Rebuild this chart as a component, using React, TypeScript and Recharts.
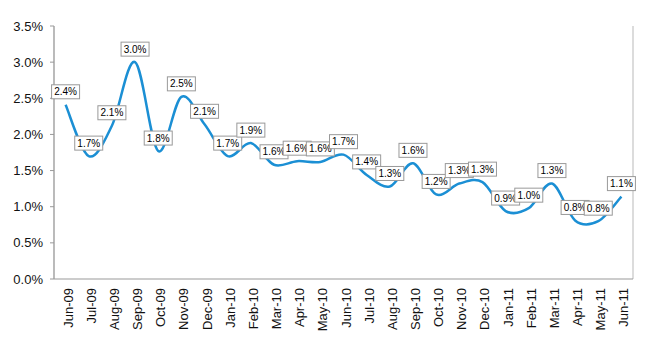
import React from 'react';
import { LineChart, Line, XAxis, YAxis, CartesianGrid } from 'recharts';

const months = [
  'Jun-09', 'Jul-09', 'Aug-09', 'Sep-09', 'Oct-09', 'Nov-09', 'Dec-09',
  'Jan-10', 'Feb-10', 'Mar-10', 'Apr-10', 'May-10', 'Jun-10', 'Jul-10', 'Aug-10', 'Sep-10', 'Oct-10', 'Nov-10', 'Dec-10',
  'Jan-11', 'Feb-11', 'Mar-11', 'Apr-11', 'May-11', 'Jun-11',
];

const rates = [
  2.41, 1.70, 2.12, 3.00, 1.77, 2.52, 2.14,
  1.70, 1.88, 1.58, 1.63, 1.62, 1.72, 1.44, 1.28, 1.60, 1.17, 1.32, 1.34,
  0.94, 0.98, 1.32, 0.81, 0.80, 1.14,
];

const yTicks = [0, 0.5, 1, 1.5, 2, 2.5, 3, 3.5];

const chartData = months.map((m, i) => ({ month: m, pos: i + 0.5, rate: rates[i] }));
const boundaryTicks = months.map((_, i) => i).concat([months.length]);
const centerTicks = months.map((_, i) => i + 0.5);

const FONT = '"Liberation Sans", Arial, Helvetica, sans-serif';

// smooth line like excel's "smoothed line" (catmull-rom through every point)
const smoothCurve = (context: any) => {
  let pts: number[][] = [];
  return {
    areaStart() {},
    areaEnd() {},
    lineStart() {
      pts = [];
    },
    point(x: number, y: number) {
      pts.push([+x, +y]);
    },
    lineEnd() {
      if (!pts.length) return;
      context.moveTo(pts[0][0], pts[0][1]);
      const k = 1 / 6;
      for (let i = 0; i < pts.length - 1; i++) {
        const p0 = pts[Math.max(i - 1, 0)];
        const p1 = pts[i];
        const p2 = pts[i + 1];
        const p3 = pts[Math.min(i + 2, pts.length - 1)];
        context.bezierCurveTo(
          p1[0] + (p2[0] - p0[0]) * k, p1[1] + (p2[1] - p0[1]) * k,
          p2[0] - (p3[0] - p1[0]) * k, p2[1] - (p3[1] - p1[1]) * k,
          p2[0], p2[1],
        );
      }
    },
  };
};

const MonthTick = (props: any) => {
  const { x, y, payload } = props;
  const label = months[Math.floor(payload.value)];
  return (
    <text
      x={x}
      y={y}
      dy={2.5}
      transform={`rotate(-90 ${x} ${y})`}
      textAnchor="end"
      dominantBaseline="central"
      fontSize={13}
      fontFamily={FONT}
      fill="#111"
    >
      {label}
    </text>
  );
};

const renderValueLabel = (props: any) => {
  const { x, y, value } = props;
  const w = 28;
  const h = 14;
  const top = y - 6 - h;
  return (
    <g>
      <rect x={x - w / 2} y={top} width={w} height={h} fill="#fff" stroke="#999" strokeWidth={1} />
      <text x={x} y={top + h / 2} textAnchor="middle" dominantBaseline="central" fontSize={10} fontFamily={FONT} fill="#000">
        {`${Number(value).toFixed(1)}%`}
      </text>
    </g>
  );
};

export default function App() {
  return (
    <div style={{ position: 'absolute', left: 0, top: 0, width: 650, height: 350, background: '#fff', fontFamily: FONT }}>
      <LineChart width={650} height={350} data={chartData} margin={{ top: 26, right: 17, bottom: 0, left: 0 }}>
        <CartesianGrid horizontal={false} xAxisId="grid" stroke="#dcdcdc" strokeWidth={2} />
        <XAxis
          xAxisId="grid"
          type="number"
          domain={[0, months.length]}
          ticks={boundaryTicks}
          allowDataOverflow
          orientation="bottom"
          height={4}
          tick={false}
          tickSize={4}
          axisLine={{ stroke: '#999' }}
          tickLine={{ stroke: '#999' }}
        />
        <XAxis
          xAxisId="lab"
          type="number"
          dataKey="pos"
          domain={[0, months.length]}
          ticks={centerTicks}
          interval={0}
          height={67}
          axisLine={false}
          tickLine={false}
          tickSize={0}
          tickMargin={5}
          tick={<MonthTick />}
        />
        <YAxis
          type="number"
          domain={[0, 3.5]}
          ticks={yTicks}
          width={54}
          tickSize={4}
          tickMargin={7}
          tickFormatter={(v: number) => `${v.toFixed(1)}%`}
          tick={{ fontSize: 13, fill: '#111', fontFamily: FONT }}
          axisLine={{ stroke: '#999' }}
          tickLine={{ stroke: '#999' }}
        />
        <Line
          xAxisId="lab"
          type={smoothCurve as any}
          dataKey="rate"
          stroke="#1b8fd4"
          strokeWidth={2.5}
          dot={false}
          isAnimationActive={false}
          label={renderValueLabel}
        />
      </LineChart>
    </div>
  );
}
